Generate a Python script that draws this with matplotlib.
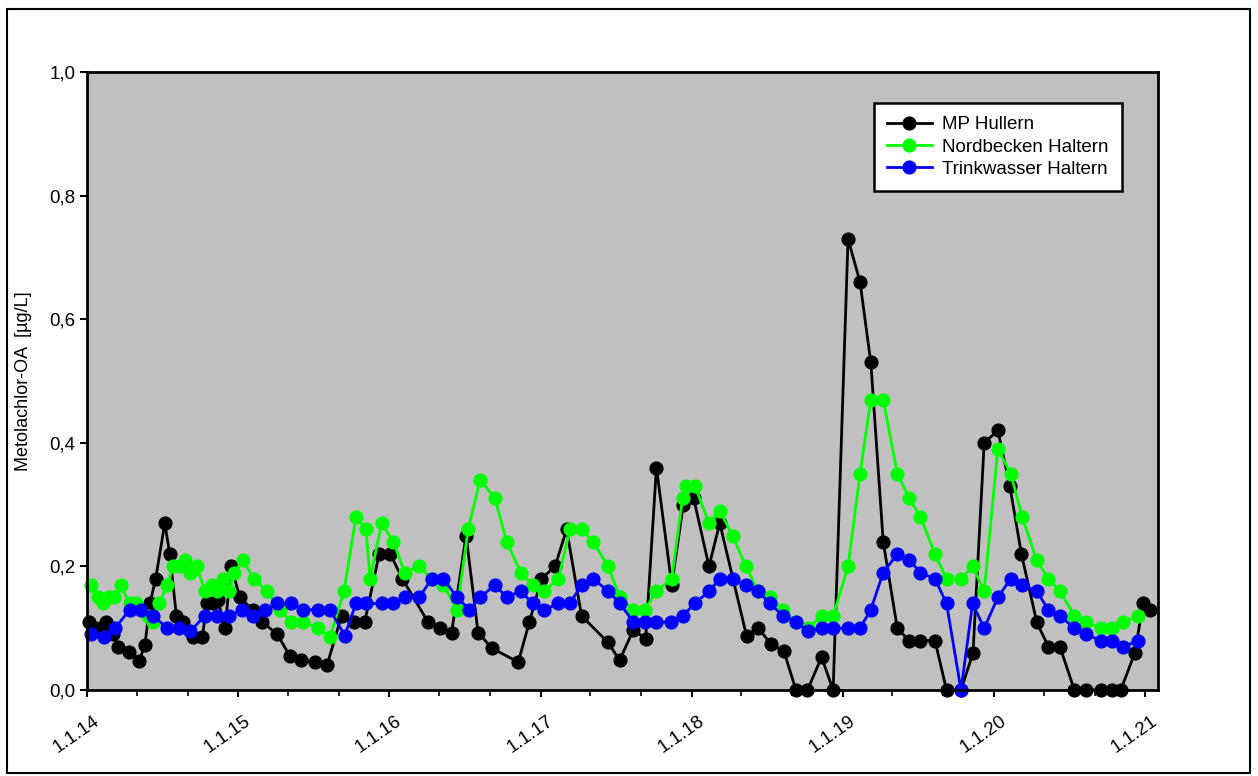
import matplotlib
matplotlib.use('Agg')
import matplotlib.pyplot as plt
import matplotlib.dates as mdates
import matplotlib.transforms as mtransforms
from matplotlib.patches import Rectangle
from matplotlib.ticker import FuncFormatter, FixedLocator
import pandas as pd

plt.rcParams['font.family'] = ['Liberation Sans', 'DejaVu Sans']

# MP Hullern
hullern_dates = ['2014-01-06', '2014-01-20', '2014-02-05', '2014-02-17', '2014-03-05', '2014-03-17',
                 '2014-04-12', '2014-05-07', '2014-05-21', '2014-06-02', '2014-06-16', '2014-07-08',
                 '2014-07-20', '2014-08-05', '2014-08-21', '2014-09-14', '2014-10-07', '2014-10-17',
                 '2014-11-02', '2014-11-14', '2014-11-30', '2014-12-16', '2015-01-05', '2015-02-05',
                 '2015-03-01', '2015-04-06', '2015-05-06', '2015-06-02', '2015-07-07', '2015-08-04',
                 '2015-09-08', '2015-10-08', '2015-11-03', '2015-12-08', '2016-01-04', '2016-02-02',
                 '2016-04-04', '2016-05-03', '2016-05-31', '2016-07-05', '2016-08-03', '2016-09-05',
                 '2016-11-08', '2016-12-05', '2017-01-03', '2017-02-05', '2017-03-05', '2017-04-10',
                 '2017-06-13', '2017-07-11', '2017-08-13', '2017-09-12', '2017-10-08', '2017-11-14',
                 '2017-12-12', '2018-01-06', '2018-02-12', '2018-03-10', '2018-05-14', '2018-06-11',
                 '2018-07-11', '2018-08-12', '2018-09-10', '2018-10-08', '2018-11-11', '2018-12-09',
                 '2019-01-14', '2019-02-12', '2019-03-10', '2019-04-09', '2019-05-13', '2019-06-10',
                 '2019-07-08', '2019-08-12', '2019-09-09', '2019-10-14', '2019-11-12', '2019-12-09',
                 '2020-01-11', '2020-02-09', '2020-03-08', '2020-04-14', '2020-05-12', '2020-06-09',
                 '2020-07-14', '2020-08-11', '2020-09-16', '2020-10-12', '2020-11-03', '2020-12-07',
                 '2020-12-27', '2021-01-12']
hullern_vals = [0.11, 0.10, 0.10, 0.11, 0.09, 0.07,
                0.062, 0.047, 0.073, 0.14, 0.18, 0.27,
                0.22, 0.12, 0.11, 0.085, 0.085, 0.14,
                0.14, 0.145, 0.10, 0.20, 0.15, 0.13,
                0.11, 0.09, 0.055, 0.048, 0.045, 0.04,
                0.12, 0.11, 0.11, 0.22, 0.22, 0.18,
                0.11, 0.10, 0.093, 0.25, 0.093, 0.068,
                0.045, 0.11, 0.18, 0.20, 0.26, 0.12,
                0.077, 0.048, 0.097, 0.083, 0.36, 0.17,
                0.30, 0.31, 0.20, 0.27, 0.087, 0.10,
                0.075, 0.063, 0.0, 0.0, 0.053, 0.0,
                0.73, 0.66, 0.53, 0.24, 0.10, 0.08,
                0.08, 0.08, 0.0, 0.0, 0.06, 0.40,
                0.42, 0.33, 0.22, 0.11, 0.07, 0.07,
                0.0, 0.0, 0.0, 0.0, 0.0, 0.06,
                0.14, 0.13]

# Nordbecken Haltern
nordbecken_dates = ['2014-01-11', '2014-01-27', '2014-02-08', '2014-02-23', '2014-03-08', '2014-03-23',
                    '2014-04-14', '2014-04-29', '2014-05-29', '2014-06-10', '2014-06-24', '2014-07-14',
                    '2014-07-28', '2014-08-13', '2014-08-25', '2014-09-06', '2014-09-23', '2014-10-13',
                    '2014-10-29', '2014-11-10', '2014-11-25', '2014-12-11', '2014-12-22', '2015-01-13',
                    '2015-02-08', '2015-03-11', '2015-04-12', '2015-05-10', '2015-06-07', '2015-07-14',
                    '2015-08-11', '2015-09-14', '2015-10-13', '2015-11-06', '2015-11-16', '2015-12-14',
                    '2016-01-11', '2016-02-08', '2016-03-14', '2016-04-13', '2016-05-11', '2016-06-13',
                    '2016-07-10', '2016-08-08', '2016-09-13', '2016-10-11', '2016-11-14', '2016-12-13',
                    '2017-01-10', '2017-02-13', '2017-03-13', '2017-04-10', '2017-05-08', '2017-06-13',
                    '2017-07-12', '2017-08-13', '2017-09-10', '2017-10-08', '2017-11-14', '2017-12-10',
                    '2017-12-18', '2018-01-09', '2018-02-12', '2018-03-10', '2018-04-10', '2018-05-12',
                    '2018-06-11', '2018-07-09', '2018-08-10', '2018-09-11', '2018-10-09', '2018-11-11',
                    '2018-12-09', '2019-01-14', '2019-02-12', '2019-03-10', '2019-04-09', '2019-05-13',
                    '2019-06-11', '2019-07-08', '2019-08-12', '2019-09-09', '2019-10-14', '2019-11-11',
                    '2019-12-09', '2020-01-11', '2020-02-11', '2020-03-10', '2020-04-14', '2020-05-12',
                    '2020-06-09', '2020-07-14', '2020-08-11', '2020-09-16', '2020-10-12', '2020-11-09',
                    '2020-12-15']
nordbecken_vals = [0.17, 0.15, 0.14, 0.15, 0.15, 0.17,
                   0.14, 0.14, 0.12, 0.11, 0.14, 0.17,
                   0.20, 0.20, 0.21, 0.19, 0.20, 0.16,
                   0.17, 0.16, 0.18, 0.16, 0.19, 0.21,
                   0.18, 0.16, 0.13, 0.11, 0.11, 0.10,
                   0.085, 0.16, 0.28, 0.26, 0.18, 0.27,
                   0.24, 0.19, 0.20, 0.18, 0.17, 0.13,
                   0.26, 0.34, 0.31, 0.24, 0.19, 0.17,
                   0.16, 0.18, 0.26, 0.26, 0.24, 0.20,
                   0.15, 0.13, 0.13, 0.16, 0.18, 0.31,
                   0.33, 0.33, 0.27, 0.29, 0.25, 0.20,
                   0.16, 0.15, 0.13, 0.11, 0.10, 0.12,
                   0.12, 0.20, 0.35, 0.47, 0.47, 0.35,
                   0.31, 0.28, 0.22, 0.18, 0.18, 0.20,
                   0.16, 0.39, 0.35, 0.28, 0.21, 0.18,
                   0.16, 0.12, 0.11, 0.10, 0.10, 0.11,
                   0.12]

# Trinkwasser Haltern
trinkwasser_dates = ['2014-01-11', '2014-02-10', '2014-03-10', '2014-04-14', '2014-05-12', '2014-06-10',
                     '2014-07-14', '2014-08-11', '2014-09-08', '2014-10-12', '2014-11-10', '2014-12-10',
                     '2015-01-11', '2015-02-06', '2015-03-08', '2015-04-05', '2015-05-10', '2015-06-07',
                     '2015-07-14', '2015-08-11', '2015-09-16', '2015-10-13', '2015-11-07', '2015-12-14',
                     '2016-01-11', '2016-02-08', '2016-03-14', '2016-04-13', '2016-05-11', '2016-06-13',
                     '2016-07-13', '2016-08-08', '2016-09-13', '2016-10-11', '2016-11-14', '2016-12-13',
                     '2017-01-10', '2017-02-13', '2017-03-13', '2017-04-10', '2017-05-08', '2017-06-13',
                     '2017-07-12', '2017-08-13', '2017-09-10', '2017-10-08', '2017-11-11', '2017-12-10',
                     '2018-01-09', '2018-02-12', '2018-03-10', '2018-04-10', '2018-05-12', '2018-06-11',
                     '2018-07-09', '2018-08-10', '2018-09-11', '2018-10-09', '2018-11-11', '2018-12-09',
                     '2019-01-14', '2019-02-12', '2019-03-10', '2019-04-09', '2019-05-13', '2019-06-11',
                     '2019-07-08', '2019-08-12', '2019-09-09', '2019-10-14', '2019-11-11', '2019-12-09',
                     '2020-01-11', '2020-02-11', '2020-03-10', '2020-04-14', '2020-05-12', '2020-06-09',
                     '2020-07-14', '2020-08-11', '2020-09-16', '2020-10-12', '2020-11-09', '2020-12-15']
trinkwasser_vals = [0.09, 0.085, 0.10, 0.13, 0.13, 0.12,
                    0.10, 0.10, 0.095, 0.12, 0.12, 0.12,
                    0.13, 0.12, 0.13, 0.14, 0.14, 0.13,
                    0.13, 0.13, 0.088, 0.14, 0.14, 0.14,
                    0.14, 0.15, 0.15, 0.18, 0.18, 0.15,
                    0.13, 0.15, 0.17, 0.15, 0.16, 0.14,
                    0.13, 0.14, 0.14, 0.17, 0.18, 0.16,
                    0.14, 0.11, 0.11, 0.11, 0.11, 0.12,
                    0.14, 0.16, 0.18, 0.18, 0.17, 0.16,
                    0.14, 0.12, 0.11, 0.095, 0.10, 0.10,
                    0.10, 0.10, 0.13, 0.19, 0.22, 0.21,
                    0.19, 0.18, 0.14, 0.0, 0.14, 0.10,
                    0.15, 0.18, 0.17, 0.16, 0.13, 0.12,
                    0.10, 0.09, 0.08, 0.08, 0.07, 0.08]

year_labels = ['1.1.14', '1.1.15', '1.1.16', '1.1.17', '1.1.18', '1.1.19', '1.1.20', '1.1.21']
series = [
    ('MP Hullern', hullern_dates, hullern_vals, 'black'),
    ('Nordbecken Haltern', nordbecken_dates, nordbecken_vals, '#00ff00'),
    ('Trinkwasser Haltern', trinkwasser_dates, trinkwasser_vals, '#0000ff'),
]

fig = plt.figure(figsize=(12.58, 7.76), dpi=100)
ax = fig.add_axes([87 / 1258, 1 - 690 / 776, (1158 - 87) / 1258, (690 - 72) / 776])
ax.set_facecolor('#c0c0c0')

for name, d, v, col in series:
    ax.plot(pd.to_datetime(d), v, color=col, lw=2, marker='o', ms=9.2,
            markeredgecolor=col, label=name, clip_on=False)

ax.set_ylim(0, 1.0)
ax.set_xlim(pd.Timestamp('2014-01-01'), pd.Timestamp('2021-02-01'))

ax.set_yticks([0, 0.2, 0.4, 0.6, 0.8, 1.0])
ax.yaxis.set_major_formatter(FuncFormatter(lambda y, p: ('%.1f' % y).replace('.', ',')))

years = pd.to_datetime(['%d-01-01' % y for y in range(2014, 2022)])
ax.xaxis.set_major_locator(FixedLocator(mdates.date2num(years)))
ax.set_xticklabels(year_labels, rotation=35, ha='right', va='top', rotation_mode='anchor')
ax.xaxis.set_minor_locator(mdates.MonthLocator(bymonth=[5, 9]))

ax.tick_params(axis='both', which='major', length=5, width=1.5, labelsize=13.5, direction='out')
ax.tick_params(axis='x', which='major', pad=11)
ax.tick_params(axis='x', which='minor', length=4, width=1.2)
for s in ax.spines.values():
    s.set_linewidth(2)

# Datumsbeschriftung etwas nach rechts schieben
shift = mtransforms.ScaledTranslation(0.06, 0, fig.dpi_scale_trans)
for lbl in ax.get_xticklabels():
    lbl.set_transform(lbl.get_transform() + shift)

ax.set_ylabel('Metolachlor-OA  [µg/L]', fontsize=13, labelpad=12)

leg = ax.legend(loc='upper right', bbox_to_anchor=(0.966, 0.950), borderaxespad=0,
                fontsize=13.5, fancybox=False, framealpha=1, edgecolor='black',
                handlelength=2.4, handletextpad=0.55, labelspacing=0.28, borderpad=0.7)
leg.get_frame().set_linewidth(1.8)

# Rahmen um die ganze Grafik
fig.patches.append(Rectangle((7 / 1258, 3 / 776), 1243 / 1258, 764 / 776, transform=fig.transFigure,
                             fill=False, edgecolor='black', lw=1.5))

fig.savefig('out.png', dpi=100)
